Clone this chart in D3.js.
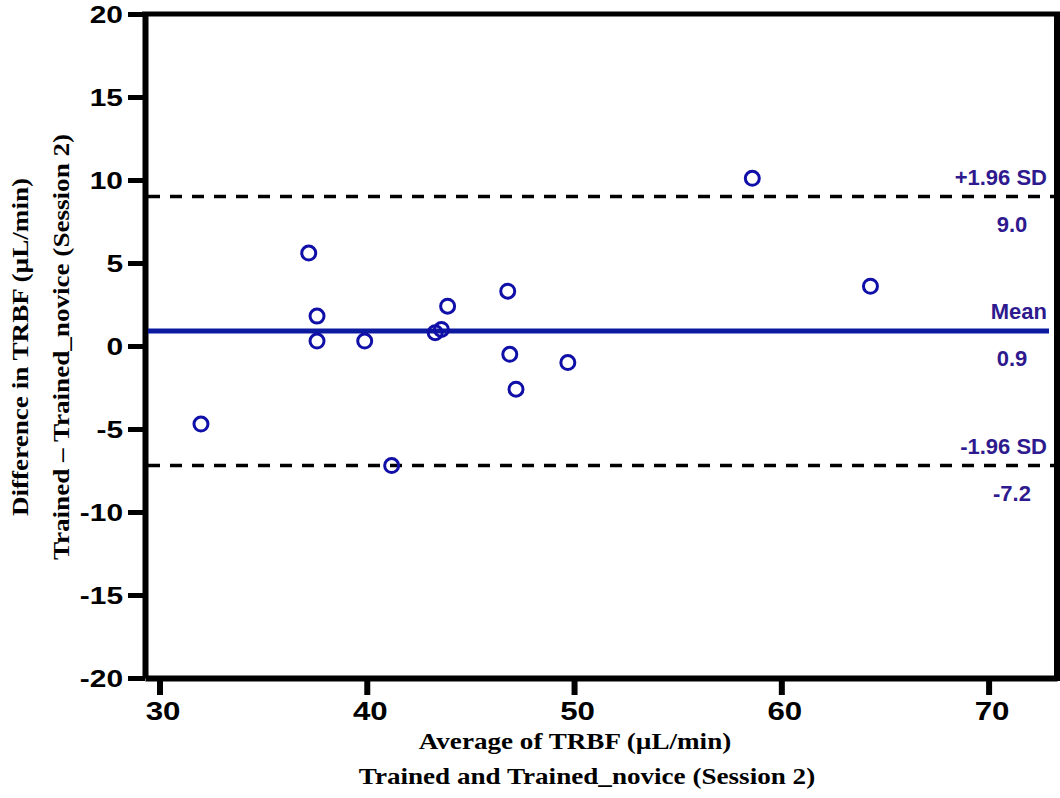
<!DOCTYPE html>
<html lang="en">
<head>
<meta charset="UTF-8">
<title>Bland-Altman TRBF Session 2</title>
<script src="https://d3js.org/d3.v7.min.js"></script>
<style>
    body { margin: 0; background: #fff; }
    .tick text { font-family: "Liberation Sans", Arial, sans-serif; font-weight: bold; }
    .title { font-family: "Liberation Serif", "Times New Roman", serif; font-weight: bold; font-size: 24px; fill: #000; }
    .ref { font-family: "Liberation Sans", Arial, sans-serif; font-weight: bold; font-size: 22px; fill: #2e1a8e; }
</style>
</head>
<body>
<div id="chart"></div>
<script>
    // data
    const avgVals  = [32.0, 37.2, 37.6, 37.6, 39.9, 41.2, 43.3, 43.6, 43.9, 46.8, 46.9, 47.2, 49.7, 58.6, 64.3];
    const diffVals = [-4.7, 5.6, 1.8, 0.3, 0.3, -7.2, 0.8, 1.0, 2.4, 3.3, -0.5, -2.6, -1.0, 10.1, 3.6];
    const xTicks = [30, 40, 50, 60, 70];
    const yTicks = [-20, -15, -10, -5, 0, 5, 10, 15, 20];
    const refNames  = ['+1.96 SD', 'Mean', '-1.96 SD'];
    const refValues = [9.0, 0.9, -7.2];

    const W = 1060, H = 798;
    const mLeft = 145, mRight = 1057, mTop = 14, mBottom = 678;

    const svg = d3.select('#chart').append('svg')
        .attr('width', W).attr('height', H);
    svg.append('rect').attr('width', W).attr('height', H).attr('fill', '#fff');

    const x = d3.scaleLinear().domain([29.3, 73.3]).range([mLeft, mRight]);
    const y = d3.scaleLinear().domain([-20, 20]).range([mBottom, mTop]);

    // axes (plain hyphen for negatives, as in the original)
    const fmt = d => String(d);
    const gy = svg.append('g').attr('transform', 'translate(' + mLeft + ',0)')
        .call(d3.axisLeft(y).tickValues(yTicks).tickFormat(fmt).tickSize(17).tickSizeOuter(0));
    const gx = svg.append('g').attr('transform', 'translate(0,' + mBottom + ')')
        .call(d3.axisBottom(x).tickValues(xTicks).tickFormat(fmt).tickSize(17).tickSizeOuter(0));

    gy.select('.domain').attr('stroke', '#000').attr('stroke-width', 6);
    gx.select('.domain').attr('stroke', '#000').attr('stroke-width', 6);
    gy.selectAll('.tick line').attr('stroke', '#000').attr('stroke-width', 5);
    gx.selectAll('.tick line').attr('stroke', '#000').attr('stroke-width', 6).attr('y1', 2);

    // stretched tick labels, like the original
    gy.selectAll('.tick text')
        .attr('font-size', 23).attr('fill', '#000')
        .attr('x', 0).attr('dy', 0).attr('y', 0)
        .attr('transform', 'translate(-22,8) scale(1.3,1)');
    gx.selectAll('.tick text')
        .attr('font-size', 25).attr('fill', '#000')
        .attr('dy', 0).attr('y', 0)
        .attr('transform', 'translate(3,42) scale(1.25,1)');

    // frame on top and right
    svg.append('line').attr('x1', mLeft - 3).attr('x2', mRight + 3).attr('y1', mTop).attr('y2', mTop)
        .attr('stroke', '#000').attr('stroke-width', 5);
    svg.append('line').attr('x1', mRight).attr('x2', mRight).attr('y1', mTop).attr('y2', mBottom + 3)
        .attr('stroke', '#000').attr('stroke-width', 6);

    // reference lines
    refValues.forEach((v, i) => {
        const mean = i === 1;
        svg.append('line')
            .attr('x1', mLeft + 3).attr('x2', mean ? mRight - 8 : mRight - 3)
            .attr('y1', y(v)).attr('y2', y(v))
            .attr('stroke', mean ? '#0c1aa0' : '#000')
            .attr('stroke-width', mean ? 5 : 3.5)
            .attr('stroke-dasharray', mean ? null : '12,10');
        svg.append('text').attr('class', 'ref')
            .attr('text-anchor', 'end')
            .attr('x', 1047).attr('y', y(v) - 12)
            .text(refNames[i]);
        svg.append('text').attr('class', 'ref')
            .attr('text-anchor', 'middle')
            .attr('x', 1012).attr('y', y(v) + 35)
            .text(v.toFixed(1));
    });

    // points
    svg.selectAll('.pt')
        .data(avgVals.map((a, i) => ({a: a, d: diffVals[i]})))
        .enter().append('circle')
        .attr('class', 'pt')
        .attr('cx', d => x(d.a))
        .attr('cy', d => y(d.d))
        .attr('r', 7)
        .attr('fill', 'none')
        .attr('stroke', '#1010a8')
        .attr('stroke-width', 3);

    // axis titles
    svg.append('text').attr('class', 'title').attr('text-anchor', 'middle')
        .attr('transform', 'translate(575,749) scale(1.13,1)')
        .text('Average of TRBF (\u00b5L/min)');
    svg.append('text').attr('class', 'title').attr('text-anchor', 'middle')
        .attr('transform', 'translate(587,784) scale(1.13,1)')
        .text('Trained and Trained_novice (Session 2)');
    svg.append('text').attr('class', 'title').attr('text-anchor', 'middle')
        .attr('transform', 'translate(28,347) rotate(-90) scale(1.13,1)')
        .text('Difference in TRBF (\u00b5L/min)');
    svg.append('text').attr('class', 'title').attr('text-anchor', 'middle')
        .attr('transform', 'translate(69,347) rotate(-90) scale(1.13,1)')
        .text('Trained \u2013 Trained_novice (Session 2)');
</script>
</body>
</html>
